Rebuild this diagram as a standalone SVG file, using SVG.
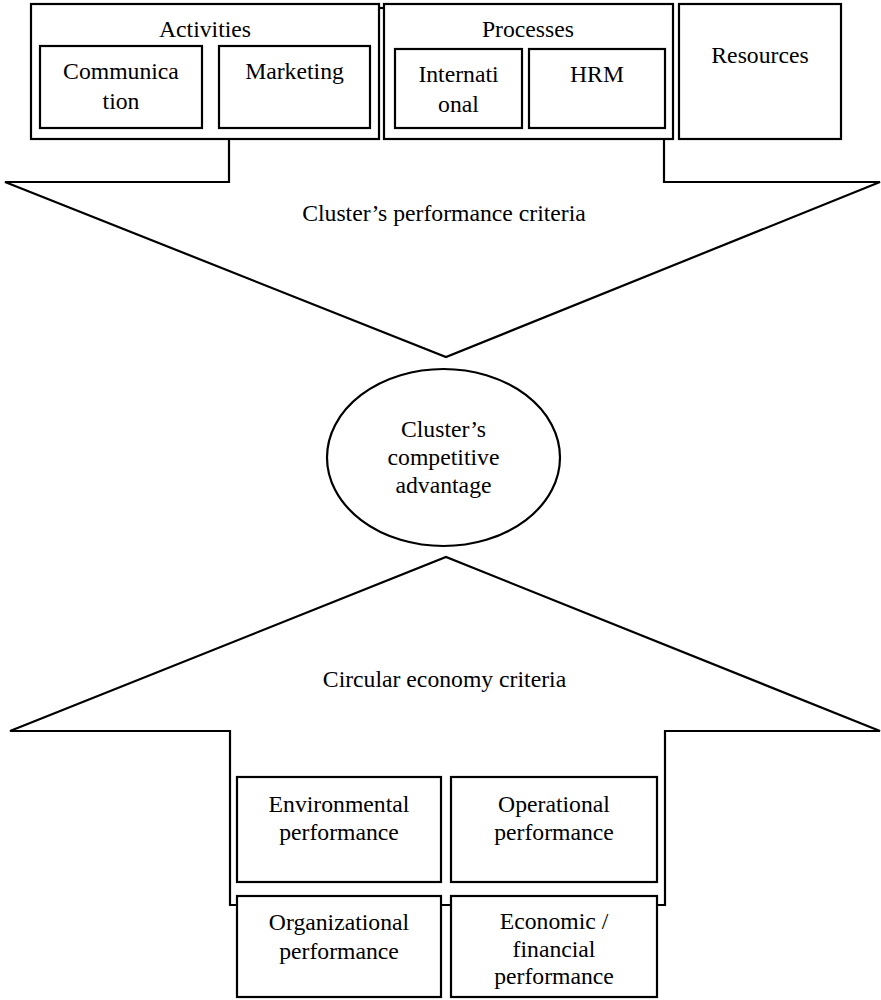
<svg xmlns="http://www.w3.org/2000/svg" width="881" height="1000" viewBox="0 0 881 1000">
  <style>
    .box { fill: #ffffff; stroke: #000000; stroke-width: 2.2; }
    .arrow { fill: #ffffff; stroke: #000000; stroke-width: 2.2; stroke-linejoin: miter; }
    text { font-family: "Liberation Serif", "Times New Roman", serif; font-size: 23.7px; fill: #000000; text-anchor: middle; }
  </style>
  <rect width="881" height="1000" fill="#ffffff"/>

  <g id="connectors">
    <!-- downward block arrow: cluster performance criteria -->
    <path class="arrow" d="M229,139 V182 H5 L446,357 L880,182 H664 V139"/>
    <!-- upward block arrow: circular economy criteria -->
    <path class="arrow" d="M230,905 V731 H10 L446,557 L880,731 H665 V905 Z"/>
    <!-- small bridge between the Activities and Processes frames -->
    <line x1="379" y1="8" x2="384" y2="8" stroke="#000000" stroke-width="2.2"/>
  </g>

  <g id="activities">
    <rect class="box" x="31" y="4" width="348" height="135"/>
    <text x="205" y="37">Activities</text>
  </g>
  <g id="communication">
    <rect class="box" x="40" y="46" width="162" height="82"/>
    <text x="121" y="79">Communica</text>
    <text x="121" y="109">tion</text>
  </g>
  <g id="marketing">
    <rect class="box" x="219" y="46" width="151" height="82"/>
    <text x="294.5" y="79">Marketing</text>
  </g>

  <g id="processes">
    <rect class="box" x="384" y="4" width="289" height="135"/>
    <text x="528" y="37">Processes</text>
  </g>
  <g id="international">
    <rect class="box" x="395" y="49" width="127" height="79"/>
    <text x="458.5" y="82">Internati</text>
    <text x="458.5" y="112">onal</text>
  </g>
  <g id="hrm">
    <rect class="box" x="529" y="49" width="136" height="79"/>
    <text x="597" y="82">HRM</text>
  </g>

  <g id="resources">
    <rect class="box" x="679" y="4" width="162" height="135"/>
    <text x="760" y="63">Resources</text>
  </g>

  <g id="performance-criteria-label">
    <text x="444" y="221">Cluster’s performance criteria</text>
  </g>

  <g id="competitive-advantage">
    <ellipse class="box" cx="443.5" cy="457.5" rx="116.5" ry="88.5"/>
    <text x="443.5" y="437">Cluster’s</text>
    <text x="443.5" y="465">competitive</text>
    <text x="443.5" y="493">advantage</text>
  </g>

  <g id="circular-economy-label">
    <text x="444.5" y="687">Circular economy criteria</text>
  </g>

  <g id="environmental">
    <rect class="box" x="237" y="777" width="204" height="105"/>
    <text x="339" y="812">Environmental</text>
    <text x="339" y="840">performance</text>
  </g>
  <g id="operational">
    <rect class="box" x="451" y="777" width="206" height="105"/>
    <text x="554" y="812">Operational</text>
    <text x="554" y="840">performance</text>
  </g>
  <g id="organizational">
    <rect class="box" x="237" y="896" width="204" height="101"/>
    <text x="339" y="930">Organizational</text>
    <text x="339" y="959">performance</text>
  </g>
  <g id="economic">
    <rect class="box" x="451" y="896" width="206" height="101"/>
    <text x="554" y="929">Economic /</text>
    <text x="554" y="957">financial</text>
    <text x="554" y="984">performance</text>
  </g>
</svg>
